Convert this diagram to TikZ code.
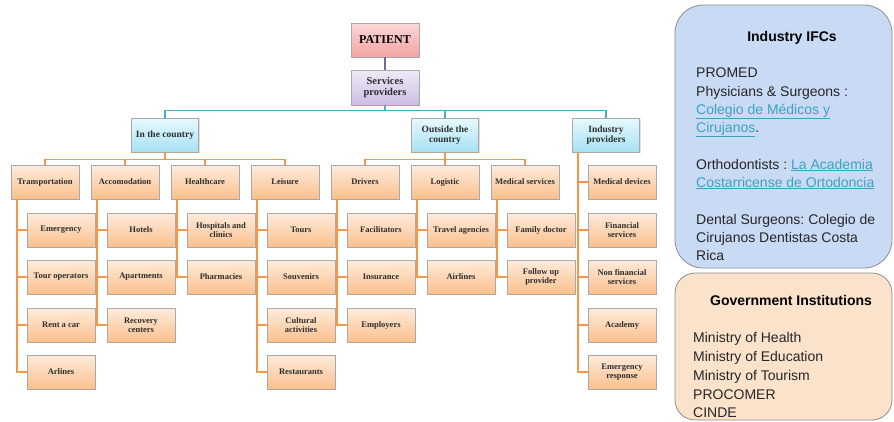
\documentclass[tikz,border=0pt]{standalone}
\usepackage{fontspec}
\setmainfont{Liberation Serif}
\newfontfamily\panelfont{Liberation Sans}
\usetikzlibrary{shadows}
\frenchspacing
\definecolor{patTop}{HTML}{FDD6D6}
\definecolor{patBot}{HTML}{F3A3A3}
\definecolor{srvTop}{HTML}{F0EAF7}
\definecolor{srvBot}{HTML}{CBBDE2}
\definecolor{cyTop}{HTML}{E8F9FE}
\definecolor{cyBot}{HTML}{A6E1F4}
\definecolor{orTop}{HTML}{FEEBDB}
\definecolor{orBot}{HTML}{FBC08D}
\definecolor{purpleLine}{HTML}{8064A2}
\definecolor{blueLine}{HTML}{4BACC6}
\definecolor{orangeLine}{HTML}{F79646}
\definecolor{boxBorder}{HTML}{A8A8A8}
\definecolor{ifcFill}{HTML}{C9DAF5}
\definecolor{govFill}{HTML}{FBE2CB}
\definecolor{panelBorder}{HTML}{8E8E8E}
\definecolor{linkc}{HTML}{3AA3C2}
\definecolor{txt}{HTML}{2E2E2E}
\newcommand\lnk[1]{\textcolor{linkc}{\underline{#1}}}
\begin{document}
\begin{tikzpicture}[x=1pt,y=-1pt,
  basebox/.style={draw=boxBorder, line width=0.6pt, align=center, inner sep=1pt,
    text=txt, drop shadow={shadow xshift=1.2pt, shadow yshift=-1.2pt, opacity=0.25}},
  patbox/.style={basebox, top color=patTop, bottom color=patBot, minimum width=68pt, minimum height=34pt,
    font=\fontsize{12}{13}\selectfont\bfseries, text=black},
  srvbox/.style={basebox, top color=srvTop, bottom color=srvBot, minimum width=68pt, minimum height=35pt,
    font=\fontsize{10.5}{11}\selectfont\bfseries},
  lvlone/.style={basebox, top color=cyTop, bottom color=cyBot, minimum width=67pt, minimum height=34pt,
    font=\fontsize{9.5}{9.5}\selectfont\bfseries},
  lvltwo/.style={basebox, top color=orTop, bottom color=orBot, minimum width=68pt, minimum height=34pt,
    font=\fontsize{8.5}{9}\selectfont\bfseries},
  pline/.style={purpleLine, line width=1.6pt},
  bline/.style={blueLine, line width=1.6pt},
  oline/.style={orangeLine, line width=1.6pt},
  ptxt/.style={font=\panelfont\fontsize{14}{16}\selectfont, inner sep=0pt, text=black!85, anchor=base west},
  ptitle/.style={font=\panelfont\fontsize{14}{16}\selectfont\bfseries, inner sep=0pt, text=black, anchor=base}
]
\useasboundingbox (0,0) rectangle (894,421);
\fill[white] (0,0) rectangle (894,421);

% top levels
\node[patbox] (pat) at (385,40) {PATIENT};
\node[srvbox] (srv) at (385,87.5) {Services\\providers};
\node[lvlone] (inc) at (165,135) {In the country};
\node[lvlone] (out) at (445,135) {Outside the\\country};
\node[lvlone] (ind) at (606,135) {Industry\\providers};

% level two
\node[lvltwo] (tr) at (45,182) {Transportation};
\node[lvltwo] (ac) at (125,182) {Accomodation};
\node[lvltwo] (hc) at (205,182) {Healthcare};
\node[lvltwo] (le) at (285,182) {Leisure};
\node[lvltwo] (dr) at (365,182) {Drivers};
\node[lvltwo] (lo) at (445,182) {Logistic};
\node[lvltwo] (ms) at (525,182) {Medical services};

% level three
\node[lvltwo] (em) at (61,230) {Emergency};
\node[lvltwo] (to) at (61,277) {Tour operators};
\node[lvltwo] (rc) at (61,325) {Rent a car};
\node[lvltwo] (ar) at (61,372) {Arlines};

\node[lvltwo] (ho) at (141,230) {Hotels};
\node[lvltwo] (ap) at (141,277) {Apartments};
\node[lvltwo] (re) at (141,325) {Recovery\\centers};

\node[lvltwo] (hs) at (221,230) {Hospitals and\\clinics};
\node[lvltwo] (ph) at (221,277) {Pharmacies};

\node[lvltwo] (tou) at (301,230) {Tours};
\node[lvltwo] (so) at (301,277) {Souvenirs};
\node[lvltwo] (cu) at (301,325) {Cultural\\activities};
\node[lvltwo] (rs) at (301,372) {Restaurants};

\node[lvltwo] (fa) at (381,230) {Facilitators};
\node[lvltwo] (ins) at (381,277) {Insurance};
\node[lvltwo] (emp) at (381,325) {Employers};

\node[lvltwo] (ta) at (461,230) {Travel agencies};
\node[lvltwo] (al) at (461,277) {Airlines};

\node[lvltwo] (fd) at (541,230) {Family doctor};
\node[lvltwo] (fu) at (541,277) {Follow up\\provider};

\node[lvltwo] (md) at (622,182) {Medical devices};
\node[lvltwo] (fs) at (622,230) {Financial\\services};
\node[lvltwo] (nf) at (622,277) {Non financial\\services};
\node[lvltwo] (aca) at (622,325) {Academy};
\node[lvltwo] (er) at (622,372) {Emergency\\response};

% connectors
\draw[pline] (pat.south) -- (srv.north);
\foreach \c in {inc,out,ind} \draw[bline] (srv.south) -- ++(0,5) -| (\c.north);
\foreach \c in {tr,ac,hc,le} \draw[oline] (inc.south) -- ++(0,7) -| (\c.north);
\foreach \c in {dr,lo,ms} \draw[oline] (out.south) -- ++(0,7) -| (\c.north);
\foreach \c in {em,to,rc,ar} \draw[oline] ([xshift=6pt]tr.south west) |- (\c.west);
\foreach \c in {ho,ap,re} \draw[oline] ([xshift=6pt]ac.south west) |- (\c.west);
\foreach \c in {hs,ph} \draw[oline] ([xshift=6pt]hc.south west) |- (\c.west);
\foreach \c in {tou,so,cu,rs} \draw[oline] ([xshift=6pt]le.south west) |- (\c.west);
\foreach \c in {fa,ins,emp} \draw[oline] ([xshift=6pt]dr.south west) |- (\c.west);
\foreach \c in {ta,al} \draw[oline] ([xshift=6pt]lo.south west) |- (\c.west);
\foreach \c in {fd,fu} \draw[oline] ([xshift=6pt]ms.south west) |- (\c.west);
\foreach \c in {md,fs,nf,aca,er} \draw[oline] ([xshift=6pt]ind.south west) |- (\c.west);

% right panels
\draw[panelBorder, fill=ifcFill, line width=0.8pt, rounded corners=28pt] (675,5) rectangle (892,268);
\draw[panelBorder, fill=govFill, line width=0.8pt, rounded corners=20pt] (675,273) rectangle (892,420);

\node[ptitle] (ifct) at (792,41) {Industry IFCs};
\node[ptxt] (ifc1) at (696,77) {PROMED};
\node[ptxt] (ifc2) at (696,96) {Physicians \& Surgeons :};
\node[ptxt] (ifc3) at (696,114) {\lnk{Colegio de Médicos y}};
\node[ptxt] (ifc4) at (696,132) {\lnk{Cirujanos}.};
\node[ptxt] (ifc5) at (696,169) {Orthodontists : \lnk{La Academia}};
\node[ptxt] (ifc6) at (696,187) {\lnk{Costarricense de Ortodoncia}};
\node[ptxt] (ifc7) at (696,224) {Dental Surgeons: Colegio de};
\node[ptxt] (ifc8) at (696,242) {Cirujanos Dentistas Costa};
\node[ptxt] (ifc9) at (696,260) {Rica};

\node[ptitle] (govt) at (791,305) {Government Institutions};
\node[ptxt] (gov1) at (693,342) {Ministry of Health};
\node[ptxt] (gov2) at (693,361) {Ministry of Education};
\node[ptxt] (gov3) at (693,380) {Ministry of Tourism};
\node[ptxt] (gov4) at (693,399) {PROCOMER};
\node[ptxt] (gov5) at (693,417) {CINDE};
\end{tikzpicture}
\end{document}
